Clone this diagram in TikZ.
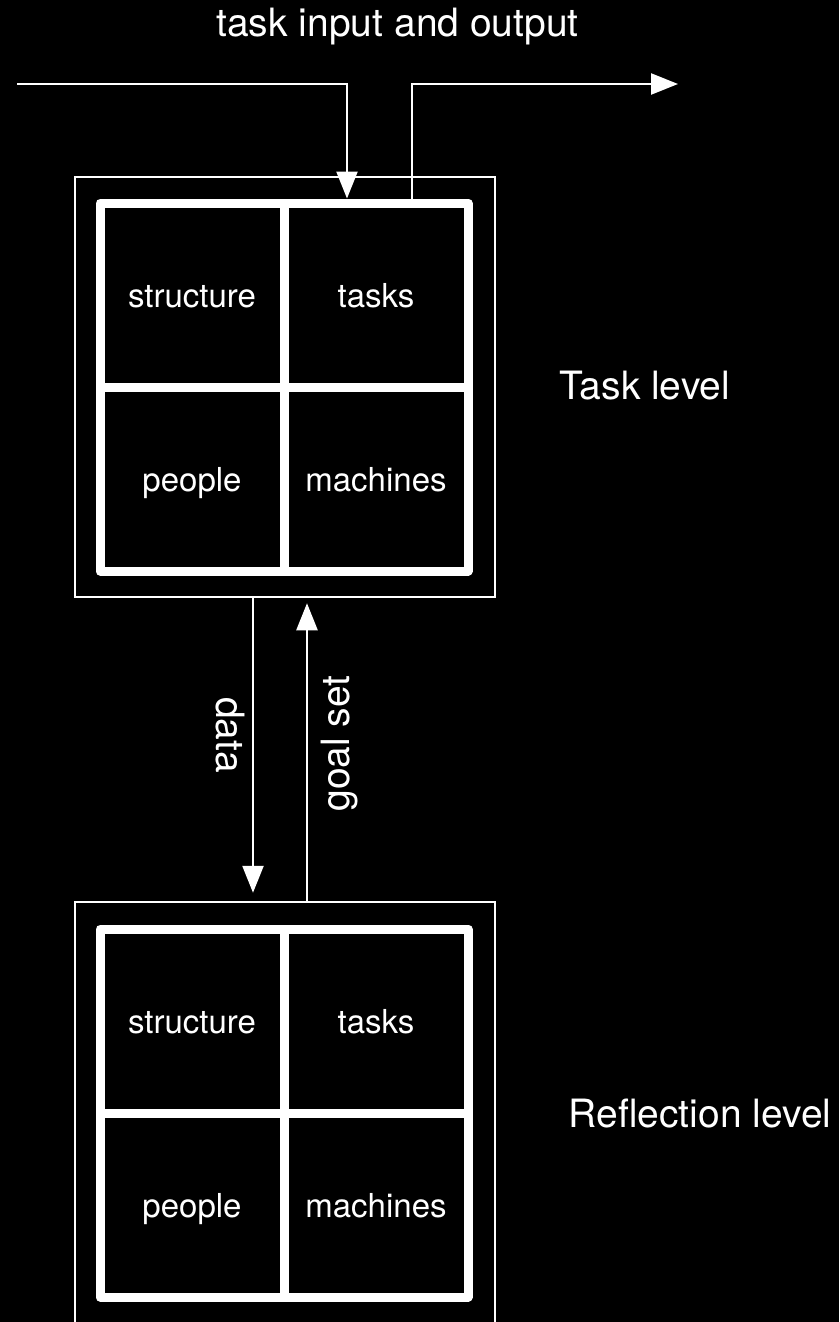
\documentclass[tikz,border=0pt]{standalone}
\usepackage{fontspec}
\setmainfont{TeX Gyre Heros}
\usetikzlibrary{arrows.meta}
\begin{document}
\begin{tikzpicture}[x=1pt,y=-1pt,
  frame/.style={draw=white, line width=2.5pt, minimum width=420pt, minimum height=420pt, inner sep=0pt},
  cell/.style={draw=white, line width=9pt, line join=round, inner sep=0pt, text=white,
    font=\fontsize{33}{39}\selectfont, text height=25pt, text depth=0pt,
    minimum width=184pt, minimum height=184pt},
  lbl/.style={text=white, font=\fontsize{39}{46}\selectfont, inner sep=0pt},
  arr/.style={draw=white, line width=2.5pt, -{Triangle[length=27pt,width=21pt]}}
]
\path[use as bounding box, fill=black] (0,0) rectangle (839,1322);

% task level
\node[frame] (o1) at (285,387) {};
\node[cell] (s1) at (192,295) {structure};
\node[cell] (t1) at (376,295) {tasks};
\node[cell] (p1) at (192,479) {people};
\node[cell] (m1) at (376,479) {machines};

% reflection level
\node[frame, minimum height=424pt] (o2) at (285,1114) {};
\node[cell] (s2) at (192,1021) {structure};
\node[cell] (t2) at (376,1021) {tasks};
\node[cell] (p2) at (192,1205) {people};
\node[cell] (m2) at (376,1205) {machines};

% task input / output
\coordinate (inStart) at (17,84);
\coordinate (outEnd) at (678,84);
\draw[arr] (inStart) -| ([xshift=-29pt]t1.north);
\draw[arr] ([xshift=36pt]t1.north) |- (outEnd);

% data and goal set
\draw[arr, shorten >=8pt] ([xshift=-32pt]o1.south) -- ([xshift=-32pt]o2.north);
\draw[arr, shorten >=5pt] ([xshift=22pt]o2.north) -- ([xshift=22pt]o1.south);

% labels
\node[lbl, anchor=base] (title) at (397.5,37) {task input and output};
\node[lbl, anchor=base] (tl) at (645,399) {Task level};
\node[lbl, anchor=base] (rl) at (700,1127) {Reflection level};
\node[lbl, anchor=base, rotate=-90] (dl) at (216,735) {data};
\node[lbl, anchor=base, rotate=90] (gl) at (349,743.5) {goal set};
\end{tikzpicture}
\end{document}
